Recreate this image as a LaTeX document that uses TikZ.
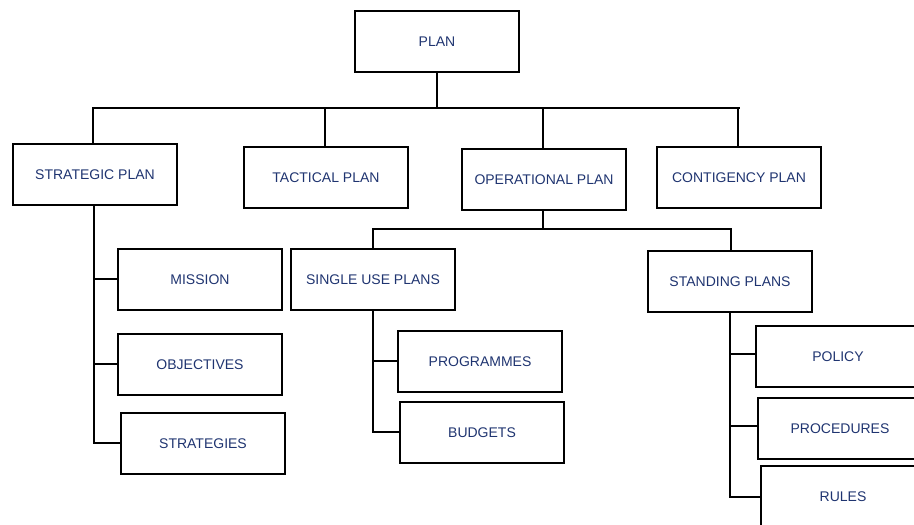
\documentclass[tikz,border=0pt]{standalone}
\usepackage{fontspec}
\setmainfont{Liberation Sans}
\definecolor{txtblue}{HTML}{1F3470}
\begin{document}
\begin{tikzpicture}[x=1pt,y=-1pt,
  box/.style={draw=black,line width=2pt,minimum width=164pt,minimum height=61pt,inner sep=0pt,anchor=north west,
    font=\fontsize{14}{16}\selectfont,text=txtblue},
  conn/.style={draw=black,line width=2pt}]
\useasboundingbox (0,0) rectangle (914,525);
\clip (0,0) rectangle (914,525);
\node[box] (plan) at (354,10) {PLAN};
\node[box] (strat) at (12,143) {STRATEGIC PLAN};
\node[box] (tact) at (243,146) {TACTICAL PLAN};
\node[box] (oper) at (461,148) {OPERATIONAL PLAN};
\node[box] (cont) at (656,146) {CONTIGENCY PLAN};
\node[box] (single) at (290,248) {SINGLE USE PLANS};
\node[box] (stand) at (647,250) {STANDING PLANS};
\node[box] (mission) at (117,248) {MISSION};
\node[box] (obj) at (117,333) {OBJECTIVES};
\node[box] (strg) at (120,412) {STRATEGIES};
\node[box] (prog) at (397,330) {PROGRAMMES};
\node[box] (budg) at (399,401) {BUDGETS};
\node[box] (policy) at (755,325) {POLICY};
\node[box] (proc) at (757,397) {PROCEDURES};
\node[box] (rules) at (760,465) {RULES};
% top level
\coordinate (j1) at (437,108);
\draw[conn] (plan.south -| j1) -- (j1);
\draw[conn] (strat.north -| 93,0) -- (93,108) -- (740,108);
\draw[conn] (tact.north -| 325,0) -- (325,108);
\draw[conn] (oper.north -| 543,0) -- (543,108);
\draw[conn] (cont.north -| 738,0) -- (738,108);
% operational
\draw[conn] (oper.south -| 543,0) -- (543,229);
\draw[conn] (single.north -| 373,0) -- (373,229) -- (731,229) -- (stand.north -| 731,0);
% strategic
\draw[conn] (strat.south -| 94,0) -- (94,443) -- (strg.west |- 0,443);
\draw[conn] (94,279) -- (mission.west |- 0,279);
\draw[conn] (94,364) -- (obj.west |- 0,364);
% single use
\draw[conn] (single.south -| 373,0) -- (373,432) -- (budg.west |- 0,432);
\draw[conn] (373,361) -- (prog.west |- 0,361);
% standing
\draw[conn] (stand.south -| 730,0) -- (730,497) -- (rules.west |- 0,497);
\draw[conn] (730,354) -- (policy.west |- 0,354);
\draw[conn] (730,426) -- (proc.west |- 0,426);
\end{tikzpicture}
\end{document}
